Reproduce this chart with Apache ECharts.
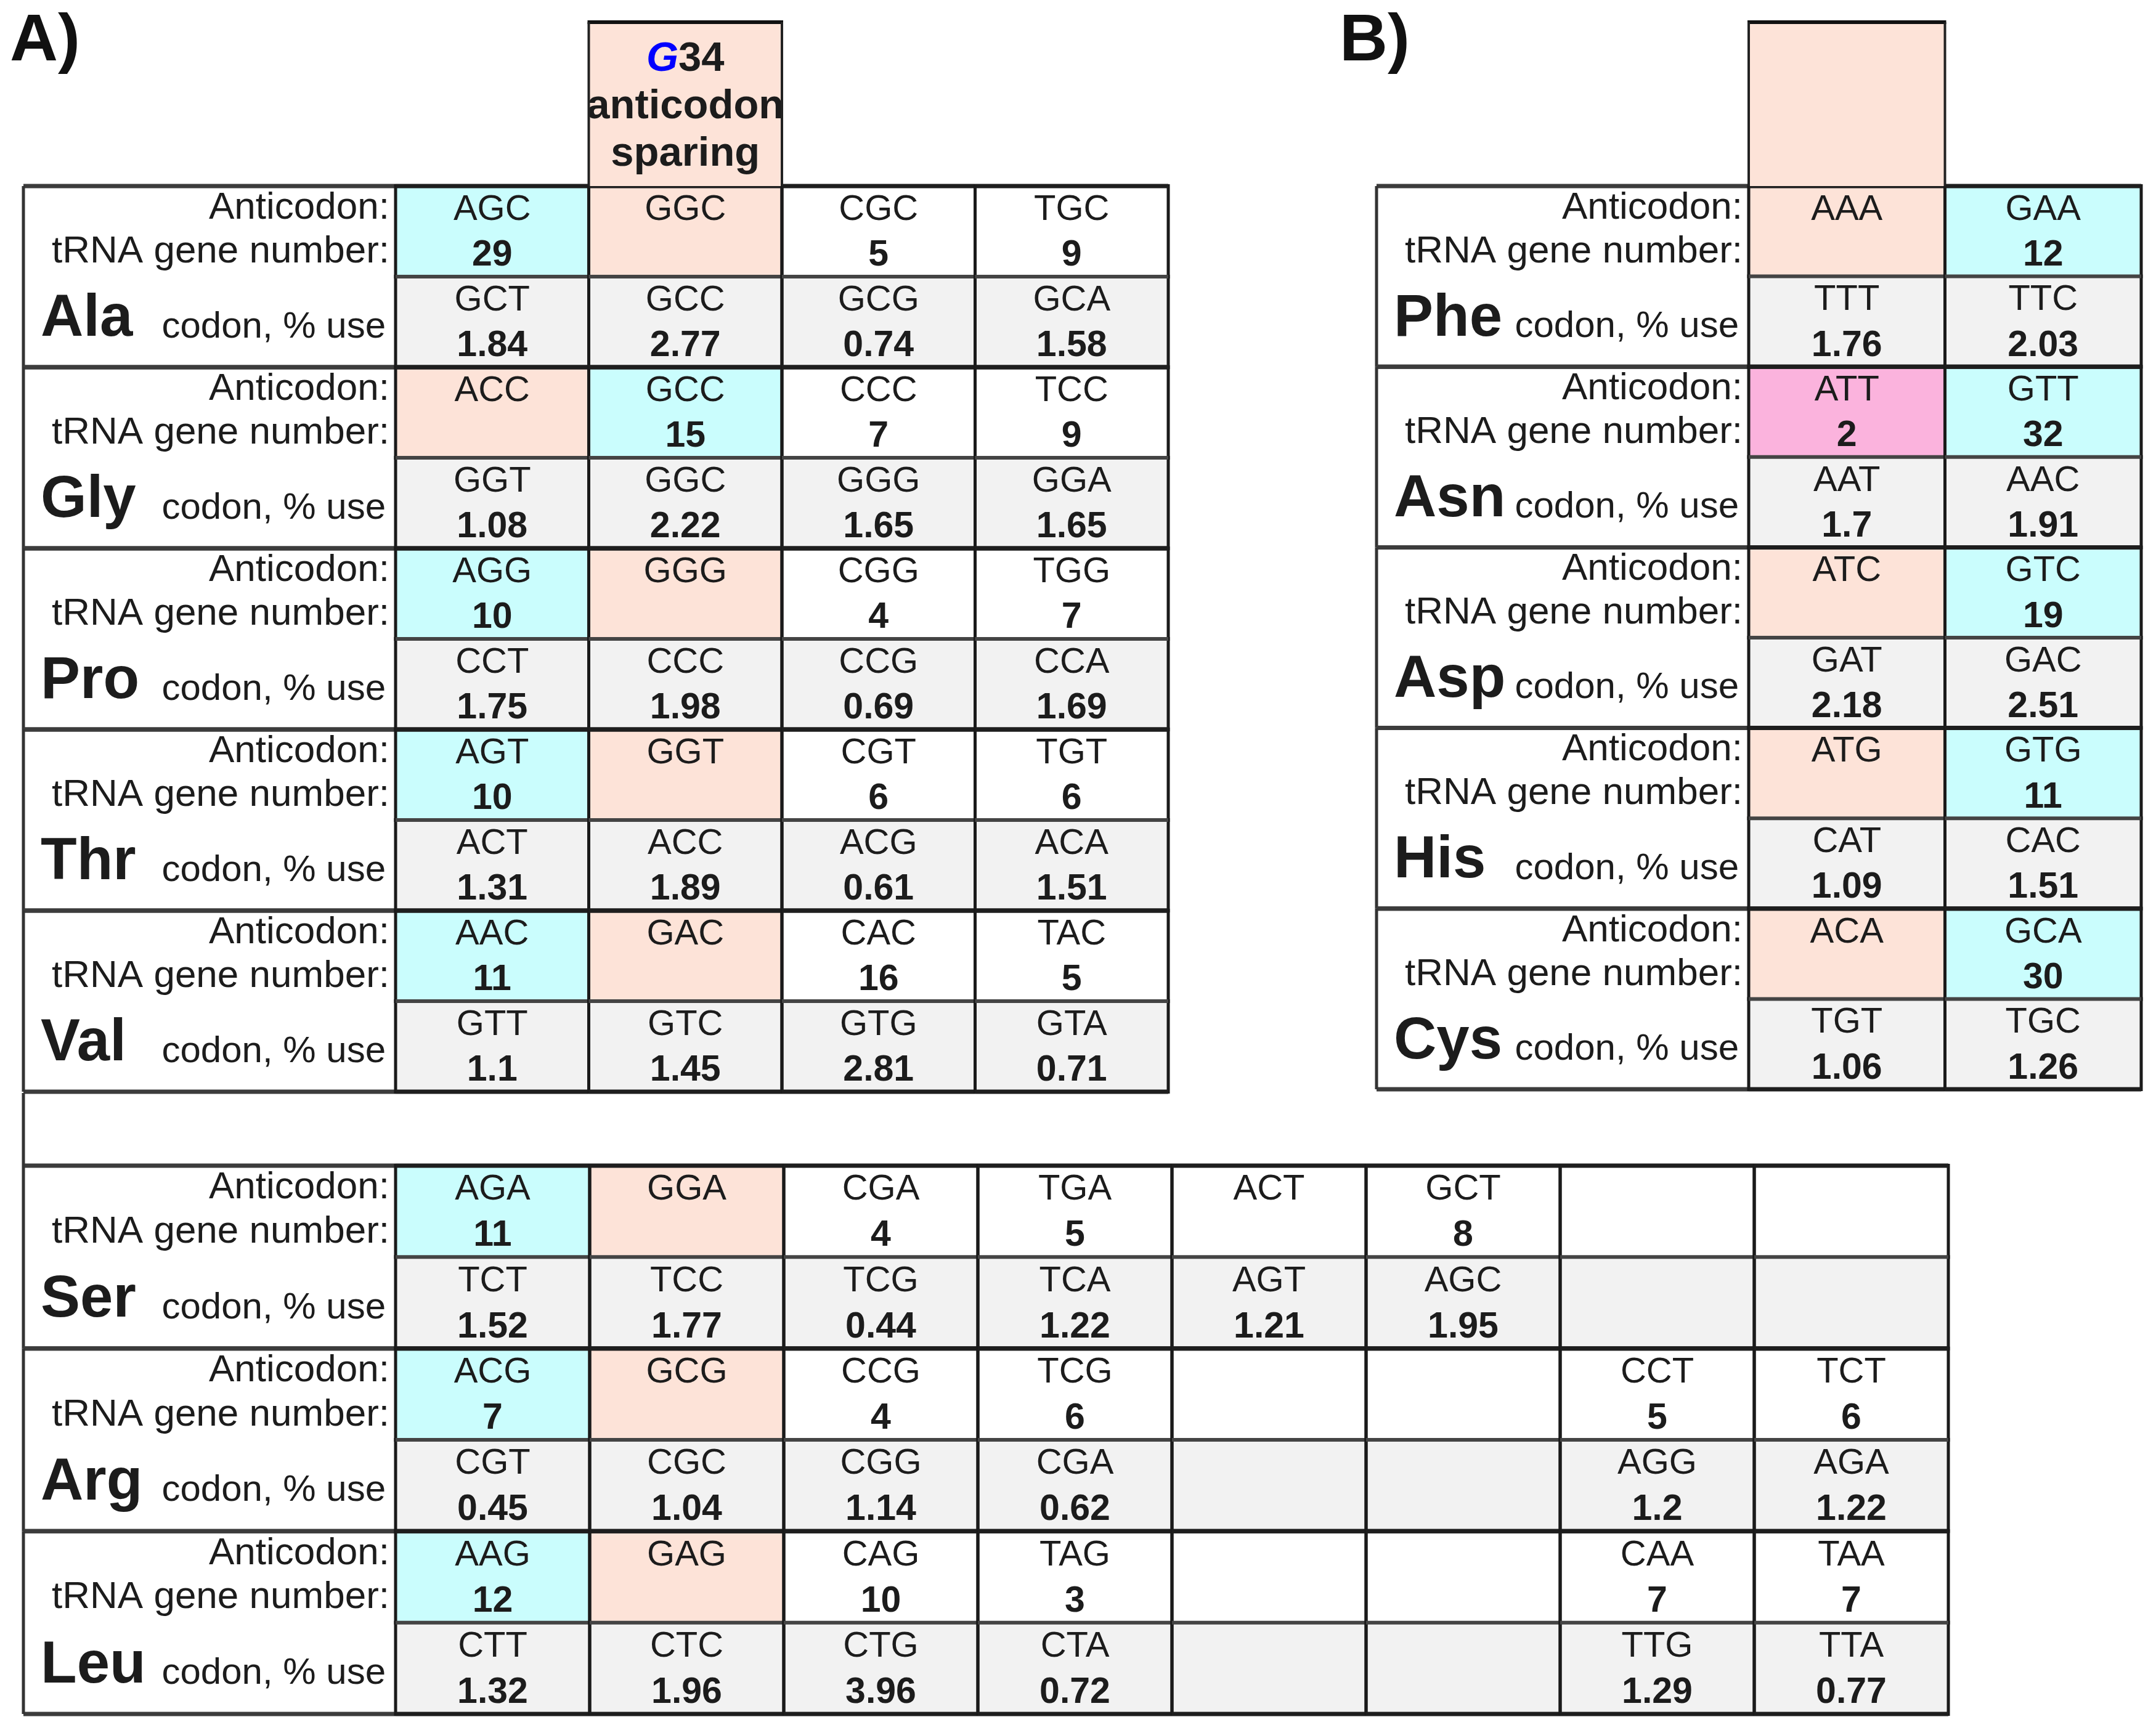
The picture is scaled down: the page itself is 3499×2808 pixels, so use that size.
<!DOCTYPE html>
<html>
<head>
<meta charset="utf-8">
<script src="https://cdn.jsdelivr.net/npm/echarts@6/dist/echarts.min.js"></script>
<style>
  html, body { margin: 0; padding: 0; background: #fff; }
  #chart { width: 3499px; height: 2808px; }
</style>
</head>
<body>
<div id="chart"></div>
<script>
// ---- panel A: four-codon boxes ----
const aminoA = ['Ala', 'Gly', 'Pro', 'Thr', 'Val'];
const anticodonA = [
  ['AGC', 'GGC', 'CGC', 'TGC'],
  ['ACC', 'GCC', 'CCC', 'TCC'],
  ['AGG', 'GGG', 'CGG', 'TGG'],
  ['AGT', 'GGT', 'CGT', 'TGT'],
  ['AAC', 'GAC', 'CAC', 'TAC']
];
const geneA = [
  [29, null, 5, 9],
  [null, 15, 7, 9],
  [10, null, 4, 7],
  [10, null, 6, 6],
  [11, null, 16, 5]
];
const codonA = [
  ['GCT', 'GCC', 'GCG', 'GCA'],
  ['GGT', 'GGC', 'GGG', 'GGA'],
  ['CCT', 'CCC', 'CCG', 'CCA'],
  ['ACT', 'ACC', 'ACG', 'ACA'],
  ['GTT', 'GTC', 'GTG', 'GTA']
];
const useA = [
  [1.84, 2.77, 0.74, 1.58],
  [1.08, 2.22, 1.65, 1.65],
  [1.75, 1.98, 0.69, 1.69],
  [1.31, 1.89, 0.61, 1.51],
  [1.1, 1.45, 2.81, 0.71]
];
// c = cyan (used tRNA), p = peach (spared), m = magenta
const shadeA = [
  ['c', 'p', '', ''],
  ['p', 'c', '', ''],
  ['c', 'p', '', ''],
  ['c', 'p', '', ''],
  ['c', 'p', '', '']
];

// ---- panel B: two-codon boxes ----
const aminoB = ['Phe', 'Asn', 'Asp', 'His', 'Cys'];
const anticodonB = [['AAA', 'GAA'], ['ATT', 'GTT'], ['ATC', 'GTC'], ['ATG', 'GTG'], ['ACA', 'GCA']];
const geneB = [[null, 12], [2, 32], [null, 19], [null, 11], [null, 30]];
const codonB = [['TTT', 'TTC'], ['AAT', 'AAC'], ['GAT', 'GAC'], ['CAT', 'CAC'], ['TGT', 'TGC']];
const useB = [[1.76, 2.03], [1.7, 1.91], [2.18, 2.51], [1.09, 1.51], [1.06, 1.26]];
const shadeB = [['p', 'c'], ['m', 'c'], ['p', 'c'], ['p', 'c'], ['p', 'c']];

// ---- lower table: six-codon amino acids ----
const aminoC = ['Ser', 'Arg', 'Leu'];
const anticodonC = [
  ['AGA', 'GGA', 'CGA', 'TGA', 'ACT', 'GCT', '', ''],
  ['ACG', 'GCG', 'CCG', 'TCG', '', '', 'CCT', 'TCT'],
  ['AAG', 'GAG', 'CAG', 'TAG', '', '', 'CAA', 'TAA']
];
const geneC = [
  [11, null, 4, 5, null, 8, null, null],
  [7, null, 4, 6, null, null, 5, 6],
  [12, null, 10, 3, null, null, 7, 7]
];
const codonC = [
  ['TCT', 'TCC', 'TCG', 'TCA', 'AGT', 'AGC', '', ''],
  ['CGT', 'CGC', 'CGG', 'CGA', '', '', 'AGG', 'AGA'],
  ['CTT', 'CTC', 'CTG', 'CTA', '', '', 'TTG', 'TTA']
];
const useC = [
  [1.52, 1.77, 0.44, 1.22, 1.21, 1.95, null, null],
  [0.45, 1.04, 1.14, 0.62, null, null, 1.2, 1.22],
  [1.32, 1.96, 3.96, 0.72, null, null, 1.29, 0.77]
];
const shadeC = [
  ['c', 'p', '', '', '', '', '', ''],
  ['c', 'p', '', '', '', '', '', ''],
  ['c', 'p', '', '', '', '', '', '']
];

const headerA = { col: 1, text: '{g|G}34\nanticodon\nsparing' };
const headerB = { col: 0, text: '' };

const FONT = '"Liberation Sans", Arial, Helvetica, sans-serif';
const FILL = { c: '#cafdfd', p: '#fde3d8', m: '#fbb3dd', '': '#ffffff' };
const GRAY = '#f2f2f2';
const INK = '#1c1c1c';
const HEAD_H = 266;
const GAP_H = 118;

function buildCells(anticodons, genes, codons, uses, shades) {
  const cells = [];
  anticodons.forEach(function (row, b) {
    row.forEach(function (ac, col) {
      cells.push({ col: col, row: 2 * b, top: ac, num: genes[b][col], fill: FILL[shades[b][col]], first: true });
      cells.push({ col: col, row: 2 * b + 1, top: codons[b][col], num: uses[b][col], fill: GRAY, first: false });
    });
  });
  return cells;
}

function txt(s, x, y, size, weight, align) {
  return {
    type: 'text', x: x, y: y, z2: 5,
    style: {
      text: s, align: align || 'center', verticalAlign: 'middle',
      fontFamily: FONT, fontSize: size, fontWeight: weight, fill: INK
    }
  };
}
function seg(x1, y1, x2, y2, color, width) {
  return {
    type: 'line', z2: 10,
    shape: { x1: x1, y1: y1, x2: x2, y2: y2 },
    style: { stroke: color, lineWidth: width }
  };
}

function cellRenderer(cells) {
  return function (params, api) {
    const c = cells[params.dataIndex];
    const p = api.coord([api.value(0), api.value(1)]);
    const s = api.size([1, 1]);
    const w = s[0], h = s[1];
    const x = p[0] - w / 2, y = p[1] - h / 2;
    const kids = [{ type: 'rect', z2: 0, shape: { x: x, y: y, width: w, height: h }, style: { fill: c.fill } }];
    if (c.top) kids.push(txt(c.top, p[0], y + h * 0.265, 58, 'normal'));
    if (c.num != null) kids.push(txt(String(c.num), p[0], y + h * 0.77, 59, 'bold'));
    kids.push(seg(x, y - 3, x, y + h + 3, '#1a1a1a', 5));
    kids.push(seg(x + w, y - 3, x + w, y + h + 3, '#1a1a1a', 5));
    kids.push(seg(x, y, x + w, y, c.first ? '#1e1e1e' : '#444444', c.first ? 7 : 6));
    if (!c.first) kids.push(seg(x, y + h, x + w, y + h, '#1e1e1e', 7));
    return { type: 'group', children: kids };
  };
}

function labelRenderer(aminos, extendTop) {
  return function (params, api) {
    const i = params.dataIndex;
    const p = api.coord([0, api.value(1)]);
    const s = api.size([1, 1]);
    const w = s[0], h = s[1];
    const x = p[0] - w / 2, y = p[1] - h / 2;
    const r = x + w - 10;
    const kids = [
      txt('Anticodon:', r, y + h * 0.122, 62, 'normal', 'right'),
      txt('tRNA gene number:', r, y + h * 0.364, 62, 'normal', 'right'),
      txt(aminos[i], x + 28, y + h * 0.738, 96, 'bold', 'left'),
      txt('codon, % use', x + w - 16, y + h * 0.779, 60, 'normal', 'right'),
      seg(x, y, x + w, y, '#3c3c3c', 7),
      seg(x, y + h, x + w, y + h, '#3c3c3c', 7),
      seg(x, (i === 0 && extendTop) ? y - GAP_H : y, x, y + h, '#333333', 5)
    ];
    return { type: 'group', children: kids };
  };
}

function headerRenderer(head) {
  return function (params, api) {
    const p = api.coord([api.value(0), api.value(1)]);
    const s = api.size([1, 1]);
    const w = s[0], h = s[1];
    const x = p[0] - w / 2, y = p[1] - h / 2;
    const kids = [
      { type: 'rect', z2: 0, shape: { x: x, y: y - HEAD_H, width: w, height: HEAD_H }, style: { fill: FILL.p } },
      seg(x - 2, y - HEAD_H, x + w + 2, y - HEAD_H, '#111111', 6),
      seg(x, y - HEAD_H, x, y, '#222222', 4),
      seg(x + w, y - HEAD_H, x + w, y, '#222222', 4)
    ];
    if (head.text) {
      kids.push({
        type: 'text', x: p[0], y: y - HEAD_H / 2 + 5, z2: 5,
        style: {
          text: head.text, align: 'center', verticalAlign: 'middle', lineHeight: 77,
          fontFamily: FONT, fontSize: 67, fontWeight: 'bold', fill: INK,
          rich: { g: { fill: '#0000ff', fontStyle: 'italic', fontWeight: 'bold', fontSize: 67, fontFamily: FONT, lineHeight: 77 } }
        }
      });
    }
    return { type: 'group', children: kids };
  };
}

const cellsA = buildCells(anticodonA, geneA, codonA, useA, shadeA);
const cellsB = buildCells(anticodonB, geneB, codonB, useB, shadeB);
const cellsC = buildCells(anticodonC, geneC, codonC, useC, shadeC);

function idx(n) { return Array.from({ length: n }, function (_, k) { return String(k); }); }

const panels = [
  { lab: { left: 38, top: 302, width: 604, height: 1470 }, dat: { left: 642, top: 302, width: 1254, height: 1470 },
    amino: aminoA, cells: cellsA, cols: 4, head: headerA, extend: false },
  { lab: { left: 2234, top: 302, width: 604, height: 1466 }, dat: { left: 2838, top: 302, width: 637, height: 1466 },
    amino: aminoB, cells: cellsB, cols: 2, head: headerB, extend: false },
  { lab: { left: 38, top: 1892, width: 604, height: 890 }, dat: { left: 642, top: 1892, width: 2520, height: 890 },
    amino: aminoC, cells: cellsC, cols: 8, head: null, extend: true }
];

const grid = [], xAxis = [], yAxis = [], series = [];
panels.forEach(function (pn) {
  const gl = grid.length;
  grid.push(pn.lab, pn.dat);
  xAxis.push({ type: 'category', gridIndex: gl, data: ['label'], show: false },
             { type: 'category', gridIndex: gl + 1, data: idx(pn.cols), show: false });
  yAxis.push({ type: 'category', gridIndex: gl, data: pn.amino, inverse: true, show: false },
             { type: 'category', gridIndex: gl + 1, data: idx(pn.amino.length * 2), inverse: true, show: false });
  series.push({
    type: 'custom', xAxisIndex: gl, yAxisIndex: gl, silent: true,
    renderItem: labelRenderer(pn.amino, pn.extend),
    data: pn.amino.map(function (a, k) { return [0, k]; })
  });
  series.push({
    type: 'custom', xAxisIndex: gl + 1, yAxisIndex: gl + 1, silent: true,
    renderItem: cellRenderer(pn.cells),
    data: pn.cells.map(function (c) { return [c.col, c.row]; })
  });
  if (pn.head) {
    series.push({
      type: 'custom', xAxisIndex: gl + 1, yAxisIndex: gl + 1, silent: true, z: 3,
      renderItem: headerRenderer(pn.head),
      data: [[pn.head.col, 0]]
    });
  }
});

const chart = echarts.init(document.getElementById('chart'), null, { renderer: 'canvas' });
chart.setOption({
  backgroundColor: '#ffffff',
  animation: false,
  title: [
    { text: 'A)', left: 16, top: 14, padding: 0, textStyle: { fontFamily: FONT, fontSize: 108, fontWeight: 'bold', color: '#111' } },
    { text: 'B)', left: 2174, top: 14, padding: 0, textStyle: { fontFamily: FONT, fontSize: 108, fontWeight: 'bold', color: '#111' } }
  ],
  grid: grid,
  xAxis: xAxis,
  yAxis: yAxis,
  series: series
});
</script>
</body>
</html>
